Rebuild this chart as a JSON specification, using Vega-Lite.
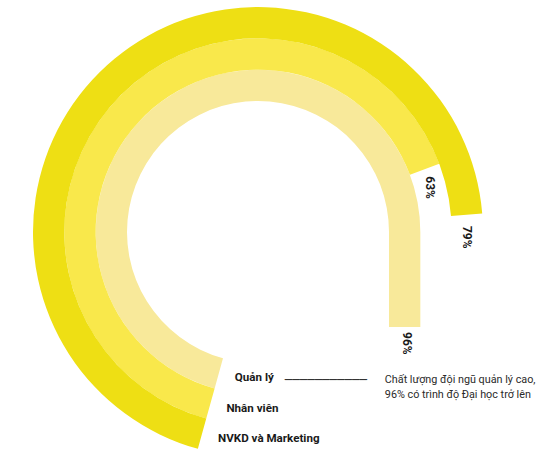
{
  "$schema": "https://vega.github.io/schema/vega-lite/v6.json",
  "width": 516,
  "height": 464,
  "autosize": {"type": "none"},
  "padding": {"left": 0, "top": 0, "right": 24, "bottom": 0},
  "background": "white",
  "config": {"view": {"stroke": null}, "font": "Roboto"},
  "data": {
    "values": [
      {"group": "Quản lý", "value": 0.96, "note": "Chất lượng đội ngũ quản lý cao,\n96% có trình độ Đại học trở lên", "leader": "───────────"},
      {"group": "Nhân viên", "value": 0.63},
      {"group": "NVKD và Marketing", "value": 0.79}
    ]
  },
  "layer": [
    {
      "mark": {"type": "arc", "stroke": null},
      "encoding": {
        "theta": {
          "field": "value", "type": "quantitative", "stack": null,
          "scale": {"type": "pow", "exponent": 0.29, "domain": [0, 0.843], "range": [3.4121, 7.854], "clamp": true}
        },
        "theta2": {"datum": 0},
        "radius": {
          "field": "group", "type": "nominal",
          "scale": {"type": "band", "domain": ["Quản lý", "Nhân viên", "NVKD và Marketing"], "range": [131, 225], "paddingInner": 0, "paddingOuter": 0}
        },
        "color": {
          "field": "group", "type": "nominal", "legend": null,
          "scale": {"domain": ["Quản lý", "Nhân viên", "NVKD và Marketing"], "range": ["#F8E99A", "#F9E84B", "#EEDF14"]}
        }
      }
    },
    {
      "transform": [{"filter": {"field": "value", "gt": 0.843}}],
      "mark": {"type": "bar"},
      "encoding": {
        "x": {
          "field": "group", "type": "nominal", "axis": null,
          "scale": {"type": "band", "domain": ["Quản lý", "Nhân viên", "NVKD và Marketing"], "range": [389, 483], "paddingInner": 0, "paddingOuter": 0}
        },
        "y": {
          "field": "value", "type": "quantitative", "axis": null,
          "scale": {"domain": [0.843, 0.96], "range": [232, 327], "zero": false}
        },
        "y2": {"datum": 0.84},
        "color": {"field": "group", "type": "nominal", "legend": null}
      }
    },
    {
      "transform": [{"filter": {"field": "value", "gt": 0.843}}],
      "mark": {"type": "text", "angle": 90, "align": "left", "baseline": "middle", "dx": 5, "dy": -2, "fontSize": 12, "fontWeight": "bold", "color": "#1a1a1a"},
      "encoding": {
        "x": {"field": "group", "type": "nominal", "axis": null},
        "y": {"field": "value", "type": "quantitative", "axis": null},
        "text": {"field": "value", "type": "quantitative", "format": ".0%"}
      }
    },
    {
      "transform": [{"filter": {"field": "value", "lte": 0.843}}],
      "mark": {"type": "text", "angle": 90, "align": "center", "baseline": "middle", "thetaOffset": 0.108, "fontSize": 12, "fontWeight": "bold", "color": "#1a1a1a"},
      "encoding": {
        "theta": {"field": "value", "type": "quantitative", "stack": null},
        "radius": {"field": "group", "type": "nominal"},
        "text": {"field": "value", "type": "quantitative", "format": ".0%"}
      }
    },
    {
      "mark": {"type": "text", "align": "left", "baseline": "middle", "dx": 16, "dy": 5, "fontSize": 11.6, "fontWeight": "bold", "color": "#1a1a1a"},
      "encoding": {
        "theta": {"datum": 0},
        "radius": {"field": "group", "type": "nominal"},
        "text": {"field": "group", "type": "nominal"}
      }
    },
    {
      "transform": [{"filter": {"field": "value", "gt": 0.843}}],
      "mark": {"type": "text", "align": "left", "baseline": "middle", "dx": 66, "dy": 7, "font": "DejaVu Sans Mono", "fontSize": 12.4, "color": "#333333"},
      "encoding": {
        "theta": {"datum": 0},
        "radius": {"field": "group", "type": "nominal"},
        "text": {"field": "leader", "type": "nominal"}
      }
    },
    {
      "transform": [{"filter": {"field": "value", "gt": 0.843}}],
      "mark": {"type": "text", "align": "left", "baseline": "middle", "dx": 166, "dy": 7, "lineBreak": "\n", "lineHeight": 14.5, "font": "Roboto", "fontSize": 10.8, "color": "#2a2a2a"},
      "encoding": {
        "theta": {"datum": 0},
        "radius": {"field": "group", "type": "nominal"},
        "text": {"field": "note", "type": "nominal"}
      }
    }
  ]
}
